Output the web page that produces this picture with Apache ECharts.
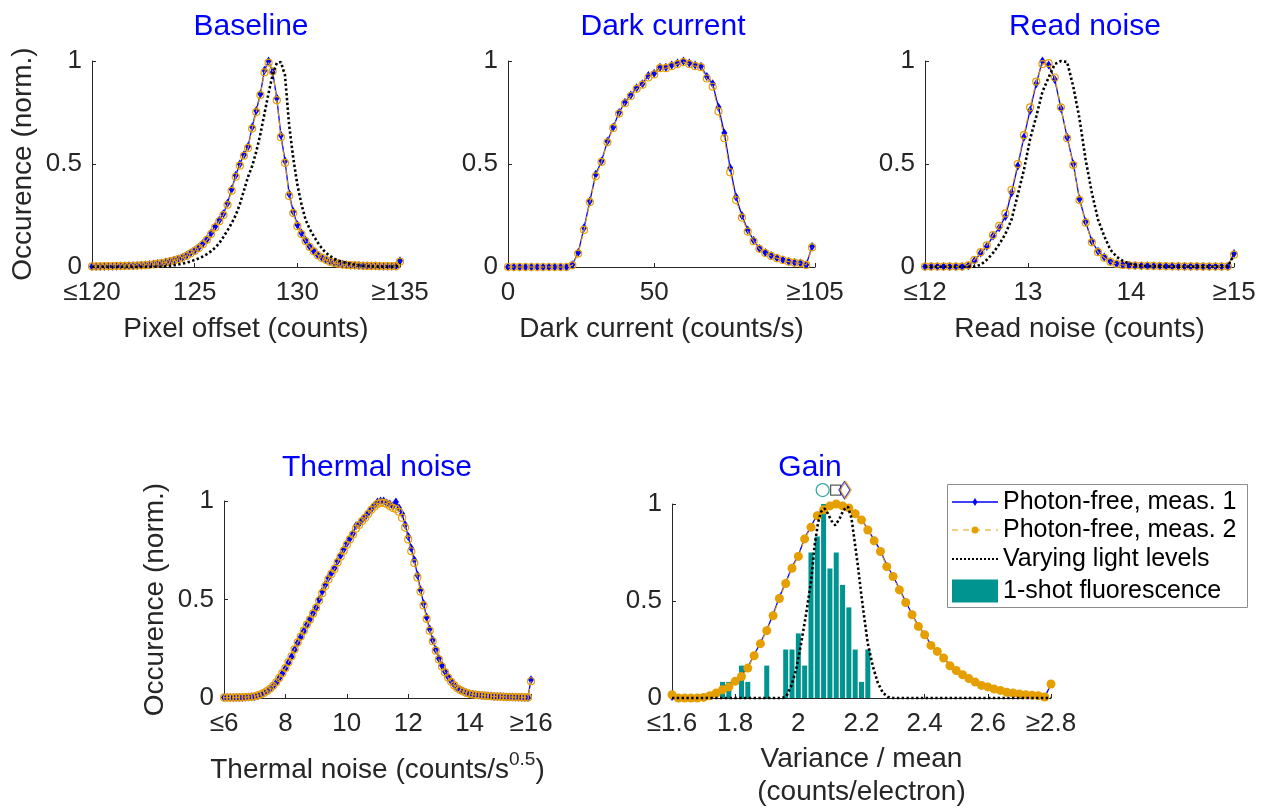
<!DOCTYPE html>
<html>
<head>
<meta charset="utf-8">
<title>Camera characterisation histograms</title>
<script src="https://cdn.jsdelivr.net/npm/echarts@6/dist/echarts.min.js"></script>
<style>
  html, body { margin: 0; padding: 0; background: #fff; }
  #chart { width: 1267px; height: 810px; }
</style>
</head>
<body>
<div id="chart"></div>
<script>
// histogram bin centres: start, step, count
function bins(start, step, n) {
  const out = [];
  for (let i = 0; i < n; i++) out.push(+(start + i * step).toFixed(4));
  return out;
}
function zip(xs, ys) { return xs.map((x, i) => [x, ys[i]]); }

// ---- Baseline (pixel offset, counts)
const baselineX = bins(120, 0.2, 76);
const baselineTicks = [120, 125, 130, 135];
const baselineTickLabels = ['\u2264120', '125', '130', '\u2265135'];
const baselineMeas1 = [0.003,0.003,0.003,0.003,0.004,0.004,0.004,0.005,0.005,0.006,
  0.006,0.007,0.008,0.010,0.012,0.014,0.017,0.020,0.024,0.028,
  0.033,0.039,0.046,0.056,0.068,0.080,0.095,0.114,0.135,0.165,
  0.197,0.228,0.258,0.310,0.378,0.445,0.500,0.545,0.585,0.680,
  0.760,0.840,0.955,1.000,0.945,0.820,0.640,0.515,0.355,0.270,
  0.205,0.165,0.130,0.100,0.078,0.058,0.045,0.035,0.027,0.021,
  0.017,0.013,0.011,0.009,0.008,0.007,0.006,0.006,0.005,0.005,
  0.005,0.004,0.004,0.004,0.004,0.030];
const baselineMeas2 = [0.003,0.003,0.003,0.004,0.004,0.004,0.005,0.005,0.005,0.006,
  0.006,0.007,0.008,0.009,0.011,0.013,0.016,0.019,0.023,0.027,
  0.032,0.038,0.045,0.054,0.066,0.078,0.092,0.110,0.132,0.160,
  0.192,0.222,0.252,0.302,0.370,0.438,0.492,0.540,0.578,0.672,
  0.752,0.835,0.945,0.992,0.950,0.810,0.630,0.505,0.345,0.262,
  0.198,0.160,0.126,0.097,0.076,0.057,0.044,0.034,0.026,0.020,
  0.016,0.012,0.010,0.009,0.008,0.007,0.006,0.005,0.005,0.005,
  0.004,0.004,0.004,0.004,0.004,0.026];
const baselineLight = [0.001,0.001,0.001,0.001,0.001,0.001,0.001,0.001,0.001,0.001,
  0.001,0.001,0.001,0.001,0.001,0.001,0.001,0.001,0.004,0.006,
  0.009,0.012,0.016,0.021,0.027,0.034,0.042,0.051,0.063,0.077,
  0.094,0.116,0.146,0.178,0.212,0.252,0.305,0.372,0.438,0.490,
  0.560,0.645,0.745,0.845,0.935,0.990,0.995,0.930,0.690,0.530,
  0.400,0.305,0.230,0.185,0.150,0.118,0.090,0.068,0.053,0.040,
  0.031,0.025,0.020,0.015,0.011,0.008,0.006,0.004,0.003,0.002,
  0.002,0.002,0.002,0.002,0.002,0.020];

// ---- Dark current (counts/s)
const darkX = bins(0, 2, 53);
const darkTicks = [0, 50, 105];
const darkTickLabels = ['0', '50', '\u2265105'];
const darkMeas1 = [0,0,0,0,0,0,0,0,0,0,0,
  0.011,0.07,0.19,0.32,0.45,0.515,0.61,0.68,0.75,0.80,0.835,0.87,0.89,0.93,0.94,
  0.97,0.97,0.98,0.99,1.0,0.99,0.98,0.975,0.925,0.89,0.775,0.65,0.48,0.34,0.25,
  0.18,0.13,0.09,0.07,0.056,0.044,0.035,0.027,0.022,0.019,0.011,0.10];
const darkMeas2 = [0,0,0,0,0,0,0,0,0,0,0,
  0.008,0.065,0.18,0.315,0.44,0.51,0.605,0.675,0.745,0.795,0.83,0.865,0.885,0.92,0.935,
  0.965,0.965,0.975,0.985,0.995,0.985,0.975,0.97,0.915,0.875,0.755,0.625,0.46,0.325,0.24,
  0.172,0.125,0.088,0.068,0.054,0.043,0.034,0.026,0.021,0.018,0.01,0.095];

// ---- Read noise (counts)
const readX = bins(12, 0.06, 51);
const readTicks = [12, 13, 14, 15];
const readTickLabels = ['\u226412', '13', '14', '\u226515'];
const readMeas1 = [0.002,0.002,0.002,0.002,0.002,0.002,0.002,
  0.006,0.03,0.068,0.10,0.15,0.19,0.245,0.36,0.49,0.63,0.76,0.89,1.0,0.98,0.91,0.77,0.63,
  0.50,0.33,0.22,0.125,0.076,0.048,0.027,0.016,0.011,
  0.008,0.007,0.006,0.006,0.005,0.005,0.004,0.004,0.004,0.003,0.003,0.003,0.003,0.002,0.002,0.002,
  0.003,0.065];
const readMeas2 = [0.002,0.002,0.002,0.002,0.002,0.002,0.002,
  0.008,0.035,0.072,0.105,0.155,0.2,0.26,0.375,0.5,0.64,0.775,0.9,0.985,0.99,0.92,0.775,0.625,
  0.495,0.325,0.215,0.12,0.072,0.045,0.025,0.015,0.01,
  0.008,0.007,0.006,0.005,0.005,0.004,0.004,0.004,0.003,0.003,0.003,0.003,0.002,0.002,0.002,0.002,
  0.003,0.06];
const readLight = [0.001,0.001,0.001,0.001,0.001,0.001,0.001,0.001,0.002,
  0.011,0.035,0.068,0.11,0.16,0.23,0.35,0.47,0.62,0.73,0.85,0.92,0.985,1.0,0.995,0.875,0.72,
  0.52,0.36,0.23,0.15,0.084,0.05,0.03,0.016,0.01,0.006,
  0.004,0.003,0.003,0.002,0.002,0.002,0.002,0.002,0.002,0.002,0.002,0.002,0.002,
  0.003,0.06];

// ---- Thermal noise (counts/s^0.5)
const thermalX = bins(6, 0.1, 101);
const thermalTicks = [6, 8, 10, 12, 14, 16];
const thermalTickLabels = ['\u22646', '8', '10', '12', '14', '\u226516'];
const thermalMeas1 = [0.002,0.002,0.002,0.002,0.002,0.003,0.003,0.004,0.005,0.006,0.008,
  0.012,0.017,0.025,0.034,0.046,0.060,0.078,0.100,0.124,0.150,
  0.180,0.210,0.245,0.280,0.310,0.340,0.372,0.400,0.430,0.460,
  0.500,0.540,0.575,0.610,0.635,0.660,0.695,0.725,0.755,0.785,
  0.810,0.835,0.875,0.885,0.905,0.920,0.940,0.960,0.978,0.995,
  1.000,1.000,0.990,0.985,0.975,0.995,0.965,0.935,0.880,0.820,
  0.760,0.700,0.625,0.550,0.480,0.410,0.350,0.295,0.245,0.200,
  0.165,0.135,0.108,0.085,0.066,0.050,0.041,0.034,0.027,0.022,
  0.019,0.017,0.015,0.013,0.012,0.011,0.010,0.008,0.008,0.007,
  0.006,0.005,0.005,0.005,0.004,0.004,0.004,0.003,0.003,0.093];
const thermalMeas2 = [0.002,0.002,0.002,0.002,0.003,0.003,0.003,0.004,0.005,0.006,0.009,
  0.013,0.018,0.026,0.035,0.047,0.062,0.080,0.102,0.126,0.152,
  0.182,0.212,0.247,0.282,0.312,0.342,0.372,0.398,0.428,0.458,
  0.495,0.532,0.568,0.602,0.630,0.655,0.688,0.718,0.748,0.778,
  0.805,0.830,0.860,0.878,0.898,0.915,0.935,0.955,0.972,0.985,
  0.992,0.990,0.985,0.975,0.965,0.960,0.945,0.915,0.865,0.805,
  0.745,0.685,0.612,0.540,0.470,0.402,0.342,0.288,0.240,0.196,
  0.160,0.130,0.104,0.082,0.064,0.049,0.040,0.033,0.026,0.021,
  0.018,0.016,0.014,0.013,0.012,0.010,0.009,0.008,0.007,0.007,
  0.006,0.005,0.005,0.004,0.004,0.004,0.003,0.003,0.003,0.085];

// ---- Gain (variance / mean)
const gainX = bins(1.6, 0.02, 61);
const gainTicks = [1.6, 1.8, 2, 2.2, 2.4, 2.6, 2.8];
const gainTickLabels = ['\u22641.6', '1.8', '2', '2.2', '2.4', '2.6', '\u22652.8'];
const gainMeas1 = [0.003,0,0,0,0.002,0.005,0.014,0.028,0.045,0.06,
  0.09,0.115,0.158,0.222,0.285,0.352,0.43,0.52,0.595,0.675,
  0.735,0.825,0.885,0.945,0.975,0.995,1.0,0.995,0.98,0.955,
  0.92,0.87,0.815,0.76,0.683,0.63,0.562,0.497,0.432,0.372,
  0.328,0.275,0.243,0.208,0.168,0.144,0.122,0.102,0.084,0.067,
  0.058,0.047,0.04,0.03,0.027,0.022,0.018,0.015,0.012,0.006,
  0.07];
const gainMeas2 = [0.017,0,0,0,0,0.003,0.012,0.026,0.043,0.057,
  0.086,0.111,0.154,0.218,0.28,0.347,0.424,0.513,0.59,0.669,
  0.73,0.82,0.88,0.94,0.97,0.99,1.0,0.99,0.98,0.95,
  0.918,0.866,0.81,0.755,0.677,0.626,0.557,0.492,0.429,0.369,
  0.326,0.271,0.24,0.206,0.166,0.142,0.12,0.1,0.082,0.065,
  0.057,0.046,0.039,0.029,0.026,0.021,0.017,0.014,0.012,0.005,
  0.072];
const gainLightX = [1.6,1.95,1.962,1.977,1.993,2.009,2.025,2.041,2.051,2.062,2.072,2.083,2.094,2.104,
  2.117,2.131,2.143,2.157,2.168,2.178,2.189,2.199,2.21,2.22,2.236,2.252,2.268,2.284,2.3,2.8];
const gainLightY = [0,0,0.009,0.06,0.146,0.283,0.437,0.609,0.78,0.9,0.96,0.977,0.95,0.915,
  0.89,0.926,0.969,0.986,0.93,0.81,0.675,0.538,0.4,0.28,0.163,0.077,0.026,0.005,0,0];
const gainShotX = [1.76,1.78,1.82,1.84,1.90,1.96,1.98,2.00,2.02,2.04,2.06,2.08,2.10,2.12,2.14,2.16,2.18,2.20,2.22];
const gainShotY = [0.083,0.083,0.167,0.083,0.167,0.25,0.25,0.333,0.167,0.75,0.833,1.0,0.667,0.75,0.583,0.467,0.25,0.083,0.25];
// peak markers above the gain panel: fluorescence, varying light, meas. 1, meas. 2
const gainPeakX = [2.077, 2.118, 2.146, 2.150];
const gainPeakY = [1.072, 1.072, 1.072, 1.072];

const FONT = "'Liberation Sans', Arial, Helvetica, sans-serif";
const INK = '#262626';
const BLUE = '#0000ff';
const ORANGE = '#e69f00';
const TEAL = '#009490';

const chart = echarts.init(document.getElementById('chart'));

const grids = [
  { left: 92, top: 61, width: 308, height: 206 },
  { left: 508, top: 61, width: 307, height: 206 },
  { left: 925, top: 61, width: 309, height: 206 },
  { left: 224, top: 501, width: 307, height: 197 },
  { left: 672, top: 504, width: 379, height: 194 }
];

function xAxisOf(i, ticks, labels, name, nameGap) {
  return {
    type: 'value', gridIndex: i, min: ticks[0], max: ticks[ticks.length - 1],
    name: name, nameLocation: 'middle', nameGap: nameGap,
    nameTextStyle: { fontFamily: FONT, fontSize: 28, color: INK, lineHeight: 33,
      rich: {
        t: { fontFamily: FONT, fontSize: 28, color: INK, lineHeight: 34, verticalAlign: 'bottom' },
        sup: { fontFamily: FONT, fontSize: 19, color: INK, lineHeight: 34, verticalAlign: 'top' }
      } },
    axisLine: { show: true, onZero: false, lineStyle: { color: INK, width: 1 } },
    axisTick: { show: true, inside: true, length: 4, customValues: ticks, lineStyle: { color: INK } },
    axisLabel: {
      customValues: ticks, margin: 13, fontFamily: FONT, fontSize: 26, color: INK,
      formatter: v => {
        const k = ticks.findIndex(t => Math.abs(t - v) < 1e-9);
        return k >= 0 ? labels[k] : String(v);
      }
    },
    splitLine: { show: false }
  };
}

function yAxisOf(i, name) {
  return {
    type: 'value', gridIndex: i, min: 0, max: 1, interval: 0.5,
    name: name, nameLocation: 'middle', nameGap: 55,
    nameTextStyle: { fontFamily: FONT, fontSize: 28, color: INK },
    axisLine: { show: true, lineStyle: { color: INK, width: 1 } },
    axisTick: { show: true, inside: true, length: 4, lineStyle: { color: INK } },
    axisLabel: { margin: 10, fontFamily: FONT, fontSize: 26, color: INK,
      formatter: v => String(v) },
    splitLine: { show: false }
  };
}

function meas1(i, xs, ys, size) {
  return {
    type: 'line', name: 'Photon-free, meas. 1', xAxisIndex: i, yAxisIndex: i,
    data: zip(xs, ys), symbol: 'diamond', symbolSize: size,
    lineStyle: { color: BLUE, width: 1.3 }, itemStyle: { color: BLUE },
    z: 2, clip: false, animation: false, emphasis: { disabled: true }
  };
}
function meas2(i, xs, ys, filled) {
  return {
    type: 'line', name: 'Photon-free, meas. 2', xAxisIndex: i, yAxisIndex: i,
    data: zip(xs, ys), symbol: 'circle', symbolSize: filled ? 9 : 7,
    lineStyle: { color: ORANGE, width: 1.1, type: [6, 4] },
    itemStyle: filled ? { color: ORANGE } : { color: 'rgba(0,0,0,0)', borderColor: ORANGE, borderWidth: 1.2 },
    z: 3, clip: false, animation: false, emphasis: { disabled: true }
  };
}
function light(i, xs, ys) {
  return {
    type: 'line', name: 'Varying light levels', xAxisIndex: i, yAxisIndex: i,
    data: zip(xs, ys), symbol: 'none',
    lineStyle: { color: '#000', width: 2.6, type: [2.4, 2.4] },
    z: 4, clip: false, animation: false, emphasis: { disabled: true }
  };
}

const peakStyles = [
  { symbol: 'circle', symbolSize: 13, itemStyle: { color: 'rgba(0,0,0,0)', borderColor: TEAL, borderWidth: 1.3 } },
  { symbol: 'rect', symbolSize: 10, itemStyle: { color: 'rgba(0,0,0,0)', borderColor: '#333', borderWidth: 1.3 } },
  { symbol: 'diamond', symbolSize: [11, 17], itemStyle: { color: 'rgba(0,0,0,0)', borderColor: BLUE, borderWidth: 1.3 } },
  { symbol: 'diamond', symbolSize: [11, 17], itemStyle: { color: 'rgba(0,0,0,0)', borderColor: ORANGE, borderWidth: 1.3 } }
];

const titles = [
  { text: 'Baseline', left: 246, top: 7 },
  { text: 'Dark current', left: 658, top: 7 },
  { text: 'Read noise', left: 1080, top: 7 },
  { text: 'Thermal noise', left: 372, top: 448 },
  { text: 'Gain', left: 805, top: 448 }
].map(t => Object.assign(t, {
  textAlign: 'center',
  textStyle: { fontFamily: FONT, fontSize: 30, fontWeight: 'normal', color: BLUE }
}));

const legendRows = [502, 530, 559, 591];
const legendText = ['Photon-free, meas. 1', 'Photon-free, meas. 2', 'Varying light levels', '1-shot fluorescence'];

chart.setOption({
  backgroundColor: '#fff',
  animation: false,
  title: titles,
  grid: grids,
  xAxis: [
    xAxisOf(0, baselineTicks, baselineTickLabels, 'Pixel offset (counts)', 46),
    xAxisOf(1, darkTicks, darkTickLabels, 'Dark current (counts/s)', 46),
    xAxisOf(2, readTicks, readTickLabels, 'Read noise (counts)', 46),
    xAxisOf(3, thermalTicks, thermalTickLabels, '{t|Thermal noise (counts/s}{sup|0.5}{t|)}', 52),
    xAxisOf(4, gainTicks, gainTickLabels, 'Variance / mean\n(counts/electron)', 45)
  ],
  yAxis: [
    yAxisOf(0, 'Occurence (norm.)'),
    yAxisOf(1, ''),
    yAxisOf(2, ''),
    yAxisOf(3, 'Occurence (norm.)'),
    yAxisOf(4, '')
  ],
  series: [
    meas1(0, baselineX, baselineMeas1, [6, 9]),
    meas2(0, baselineX, baselineMeas2, false),
    light(0, baselineX, baselineLight),

    meas1(1, darkX, darkMeas1, [6, 9]),
    meas2(1, darkX, darkMeas2, false),

    meas1(2, readX, readMeas1, [6, 9]),
    meas2(2, readX, readMeas2, false),
    light(2, readX, readLight),

    meas1(3, thermalX, thermalMeas1, [6, 9]),
    meas2(3, thermalX, thermalMeas2, false),

    {
      type: 'bar', name: '1-shot fluorescence', xAxisIndex: 4, yAxisIndex: 4,
      data: zip(gainShotX, gainShotY), barWidth: 5, itemStyle: { color: TEAL },
      z: 1, animation: false, emphasis: { disabled: true }
    },
    meas1(4, gainX, gainMeas1, [5, 7]),
    meas2(4, gainX, gainMeas2, true),
    light(4, gainLightX, gainLightY),
    {
      type: 'scatter', xAxisIndex: 4, yAxisIndex: 4, clip: false, z: 5, animation: false,
      data: gainPeakX.map((x, k) => Object.assign({ value: [x, gainPeakY[k]] }, peakStyles[k]))
    }
  ],
  graphic: [
    { type: 'rect', z: 100, shape: { x: 947.5, y: 484.5, width: 300, height: 123 },
      style: { fill: '#fff', stroke: '#8c8c8c', lineWidth: 1 } },
    { type: 'line', z: 101, shape: { x1: 952, y1: legendRows[0], x2: 998, y2: legendRows[0] },
      style: { stroke: BLUE, lineWidth: 1.3 } },
    { type: 'polygon', z: 102, shape: { points: [[975, legendRows[0] - 4], [977.5, legendRows[0]], [975, legendRows[0] + 4], [972.5, legendRows[0]]] },
      style: { fill: BLUE } },
    { type: 'line', z: 101, shape: { x1: 952, y1: legendRows[1], x2: 998, y2: legendRows[1] },
      style: { stroke: ORANGE, lineWidth: 1, lineDash: [6, 5] } },
    { type: 'circle', z: 102, shape: { cx: 975, cy: legendRows[1], r: 3.5 }, style: { fill: ORANGE } },
    { type: 'line', z: 101, shape: { x1: 952, y1: legendRows[2], x2: 998, y2: legendRows[2] },
      style: { stroke: '#000', lineWidth: 2, lineDash: [2, 2] } },
    { type: 'rect', z: 101, shape: { x: 952, y: legendRows[3] - 11.5, width: 46, height: 23 }, style: { fill: TEAL } }
  ].concat(legendText.map((t, k) => ({
    type: 'text', z: 102, x: 1003, y: legendRows[k],
    style: { text: t, fontFamily: FONT, fontSize: 25, fill: '#000', textVerticalAlign: 'middle', verticalAlign: 'middle' }
  })))
});
</script>
</body>
</html>
